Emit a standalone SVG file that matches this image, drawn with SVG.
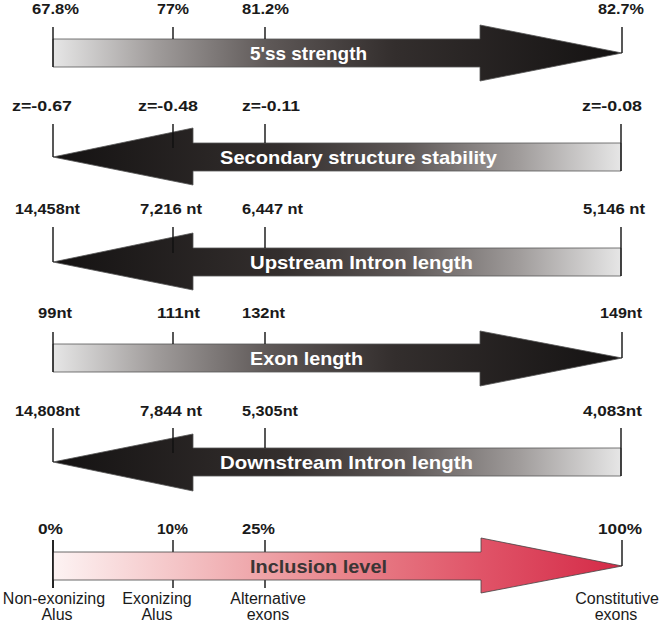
<svg xmlns="http://www.w3.org/2000/svg" width="661" height="623" viewBox="0 0 661 623">
<defs>
<linearGradient id="gR" x1="0" y1="0" x2="1" y2="0">
<stop offset="0" stop-color="#e6e6e6"/>
<stop offset="0.18" stop-color="#a09c9b"/>
<stop offset="0.38" stop-color="#5e5857"/>
<stop offset="0.6" stop-color="#332e2d"/>
<stop offset="1" stop-color="#141212"/>
</linearGradient>
<linearGradient id="gL" x1="1" y1="0" x2="0" y2="0">
<stop offset="0" stop-color="#e6e6e6"/>
<stop offset="0.18" stop-color="#a09c9b"/>
<stop offset="0.38" stop-color="#5e5857"/>
<stop offset="0.6" stop-color="#332e2d"/>
<stop offset="1" stop-color="#141212"/>
</linearGradient>
<linearGradient id="gP" x1="0" y1="0" x2="1" y2="0">
<stop offset="0" stop-color="#fdf3f3"/>
<stop offset="0.22" stop-color="#f4c4c6"/>
<stop offset="0.5" stop-color="#e9868d"/>
<stop offset="0.75" stop-color="#e05468"/>
<stop offset="1" stop-color="#d42a47"/>
</linearGradient>
</defs>
<style>
.tick{stroke:#111;stroke-width:1.4;fill:none}
.arr{stroke:#555;stroke-width:0.8}
.val{font-family:"Liberation Sans",Arial,sans-serif;font-weight:bold;font-size:14px;fill:#1a1a1a}
.lab{font-family:"Liberation Sans",Arial,sans-serif;font-weight:bold;font-size:18.5px;fill:#fff}
.cat{font-family:"Liberation Sans",Arial,sans-serif;font-size:16px;fill:#1a1a1a;text-anchor:middle}
</style>

<g id="row1">
<polygon class="arr" fill="url(#gR)" points="53,39 480,39 480,25 622,53 480,81 480,67 53,67"/>
<line class="tick" x1="53" y1="27" x2="53" y2="67"/>
<line class="tick" x1="173" y1="27" x2="173" y2="39"/>
<line class="tick" x1="265" y1="27" x2="265" y2="39"/>
<line class="tick" x1="622" y1="27" x2="622" y2="53"/>
<text class="val" x="32" y="14" textLength="47" lengthAdjust="spacingAndGlyphs">67.8%</text>
<text class="val" x="157" y="14" textLength="32" lengthAdjust="spacingAndGlyphs">77%</text>
<text class="val" x="242" y="14" textLength="47" lengthAdjust="spacingAndGlyphs">81.2%</text>
<text class="val" x="598" y="14" textLength="46" lengthAdjust="spacingAndGlyphs">82.7%</text>
<text class="lab" x="250" y="60" textLength="117" lengthAdjust="spacingAndGlyphs">5'ss strength</text>
</g>

<g id="row2">
<polygon class="arr" fill="url(#gL)" points="621,143 193,143 193,128 53,157 193,185 193,171 621,171"/>
<line class="tick" x1="53" y1="124" x2="53" y2="157"/>
<line class="tick" x1="173" y1="124" x2="173" y2="148"/>
<line class="tick" x1="265" y1="124" x2="265" y2="143"/>
<line class="tick" x1="621" y1="124" x2="621" y2="171"/>
<text class="val" x="12" y="111" textLength="60" lengthAdjust="spacingAndGlyphs">z=-0.67</text>
<text class="val" x="138" y="111" textLength="60" lengthAdjust="spacingAndGlyphs">z=-0.48</text>
<text class="val" x="242" y="111" textLength="58" lengthAdjust="spacingAndGlyphs">z=-0.11</text>
<text class="val" x="582" y="111" textLength="60" lengthAdjust="spacingAndGlyphs">z=-0.08</text>
<text class="lab" x="220" y="164" textLength="277" lengthAdjust="spacingAndGlyphs">Secondary structure stability</text>
</g>

<g id="row3">
<polygon class="arr" fill="url(#gL)" points="621,248 193,248 193,233 53,262 193,290 193,276 621,276"/>
<line class="tick" x1="53" y1="227" x2="53" y2="262"/>
<line class="tick" x1="173" y1="227" x2="173" y2="253"/>
<line class="tick" x1="265" y1="227" x2="265" y2="248"/>
<line class="tick" x1="621" y1="227" x2="621" y2="276"/>
<text class="val" x="15" y="214" textLength="65" lengthAdjust="spacingAndGlyphs">14,458nt</text>
<text class="val" x="140" y="214" textLength="62" lengthAdjust="spacingAndGlyphs">7,216 nt</text>
<text class="val" x="242" y="214" textLength="61" lengthAdjust="spacingAndGlyphs">6,447 nt</text>
<text class="val" x="583" y="214" textLength="62" lengthAdjust="spacingAndGlyphs">5,146 nt</text>
<text class="lab" x="250" y="269" textLength="223" lengthAdjust="spacingAndGlyphs">Upstream Intron length</text>
</g>

<g id="row4">
<polygon class="arr" fill="url(#gR)" points="53,344 480,344 480,331 622,358 480,386 480,372 53,372"/>
<line class="tick" x1="53" y1="332" x2="53" y2="372"/>
<line class="tick" x1="173" y1="332" x2="173" y2="344"/>
<line class="tick" x1="265" y1="332" x2="265" y2="344"/>
<line class="tick" x1="622" y1="332" x2="622" y2="358"/>
<text class="val" x="38" y="318" textLength="34" lengthAdjust="spacingAndGlyphs">99nt</text>
<text class="val" x="157" y="318" textLength="43" lengthAdjust="spacingAndGlyphs">111nt</text>
<text class="val" x="242" y="318" textLength="43" lengthAdjust="spacingAndGlyphs">132nt</text>
<text class="val" x="600" y="318" textLength="42" lengthAdjust="spacingAndGlyphs">149nt</text>
<text class="lab" x="250" y="365" textLength="113" lengthAdjust="spacingAndGlyphs">Exon length</text>
</g>

<g id="row5">
<polygon class="arr" fill="url(#gL)" points="621,448 193,448 193,434 53,462 193,491 193,476 621,476"/>
<line class="tick" x1="53" y1="428" x2="53" y2="462"/>
<line class="tick" x1="173" y1="428" x2="173" y2="453"/>
<line class="tick" x1="265" y1="428" x2="265" y2="448"/>
<line class="tick" x1="621" y1="428" x2="621" y2="476"/>
<text class="val" x="15" y="416" textLength="65" lengthAdjust="spacingAndGlyphs">14,808nt</text>
<text class="val" x="140" y="416" textLength="62" lengthAdjust="spacingAndGlyphs">7,844 nt</text>
<text class="val" x="242" y="416" textLength="56" lengthAdjust="spacingAndGlyphs">5,305nt</text>
<text class="val" x="583" y="416" textLength="59" lengthAdjust="spacingAndGlyphs">4,083nt</text>
<text class="lab" x="220" y="469" textLength="253" lengthAdjust="spacingAndGlyphs">Downstream Intron length</text>
</g>

<g id="row6">
<line class="tick" x1="53" y1="540" x2="53" y2="588"/>
<line class="tick" x1="173" y1="540" x2="173" y2="588"/>
<line class="tick" x1="265" y1="540" x2="265" y2="588"/>
<polygon stroke="#444" stroke-width="0.8" fill="url(#gP)" points="53,552 481,552 481,538 622,566 481,593 481,580 53,580"/>
<line class="tick" x1="53" y1="540" x2="53" y2="588"/>
<line class="tick" x1="622" y1="540" x2="622" y2="566"/>
<text class="val" x="38" y="534" textLength="25" lengthAdjust="spacingAndGlyphs">0%</text>
<text class="val" x="157" y="534" textLength="31" lengthAdjust="spacingAndGlyphs">10%</text>
<text class="val" x="242" y="534" textLength="33" lengthAdjust="spacingAndGlyphs">25%</text>
<text class="val" x="598" y="534" textLength="44" lengthAdjust="spacingAndGlyphs">100%</text>
<text class="lab" x="250" y="573" textLength="137" lengthAdjust="spacingAndGlyphs" style="fill:#3a3535">Inclusion level</text>
<text class="cat" x="54" y="604">Non-exonizing</text>
<text class="cat" x="57" y="620">Alus</text>
<text class="cat" x="157" y="604">Exonizing</text>
<text class="cat" x="157" y="620">Alus</text>
<text class="cat" x="268" y="604">Alternative</text>
<text class="cat" x="268" y="620">exons</text>
<text class="cat" x="617" y="604">Constitutive</text>
<text class="cat" x="616" y="620">exons</text>
</g>
</svg>
